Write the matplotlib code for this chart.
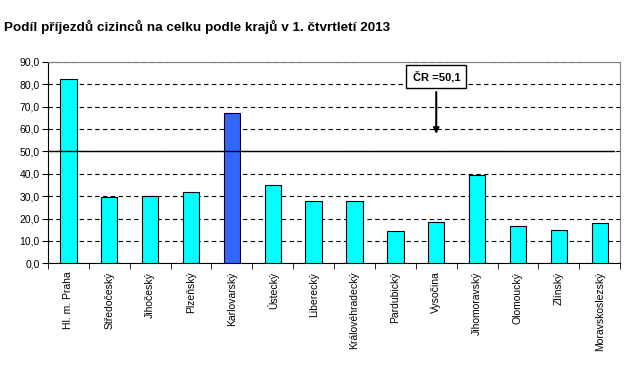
import numpy as np
import matplotlib.pyplot as plt
from matplotlib.ticker import MultipleLocator, FuncFormatter

kraje = ["Hl. m. Praha", "Středočeský", "Jihočeský", "Plzeňský", "Karlovarský",
         "Ústecký", "Liberecký", "Královéhradecký", "Pardubický", "Vysočina",
         "Jihomoravský", "Olomoucký", "Zlínský", "Moravskoslezský"]
podil = [82.5, 29.6, 30.0, 31.8, 67.2, 34.9, 27.8, 27.8, 14.5, 18.5, 39.3, 16.7, 14.9, 18.0]
cr = 50.1
zvyraznit = "Karlovarský"

plt.rcParams['font.family'] = ['Liberation Sans', 'DejaVu Sans']

fig = plt.figure(figsize=(6.4, 3.68), dpi=100)
ax = fig.add_axes([0.075, 0.2845, 0.894, 0.5475])

x = np.arange(len(kraje))
colors = ['#3366FF' if k == zvyraznit else '#00FFFF' for k in kraje]
ax.bar(x, podil, width=0.4, color=colors, edgecolor='black', linewidth=0.8, zorder=3)

ax.set_xlim(-0.5, len(kraje) - 0.5)
ax.set_ylim(0, 90)
ax.yaxis.set_major_locator(MultipleLocator(10))
ax.yaxis.set_major_formatter(FuncFormatter(lambda v, p: f"{v:.1f}".replace('.', ',')))
ax.grid(axis='y', color='black', linestyle=(0, (4, 3)), linewidth=0.8, zorder=1)

ax.set_xticks(x)
ax.set_xticklabels(kraje, rotation=90, fontsize=7.5)
ax.set_xticks(np.arange(len(kraje) + 1) - 0.5, minor=True)
ax.tick_params(axis='x', which='major', length=0, pad=6)
ax.tick_params(axis='x', which='minor', length=4, color='black')
ax.tick_params(axis='y', length=4, labelsize=7.5, pad=2)

for s in ['top', 'right']:
    ax.spines[s].set_color('#808080')
for s in ['left', 'bottom']:
    ax.spines[s].set_color('black')

ax.axhline(cr, xmin=0, xmax=0.99, color='black', linewidth=1.0, zorder=4)

ax.annotate("", xy=(9.0, 57.8), xytext=(9.0, 76.5),
            arrowprops=dict(arrowstyle='-|>', color='black', lw=1.5, mutation_scale=8,
                            shrinkA=0, shrinkB=0))
ax.text(9.0, 83.5, "ČR =50,1", ha='center', va='center', fontsize=8,
        fontweight='bold', zorder=5,
        bbox=dict(boxstyle='square,pad=0.55', facecolor='white', edgecolor='black', linewidth=1))

fig.text(0.006, 0.927, "Podíl příjezdů cizinců na celku podle krajů v 1. čtvrtletí 2013",
         fontsize=9.7, fontweight='bold', ha='left', va='center',
         family=['Liberation Sans Narrow', 'Liberation Sans', 'DejaVu Sans'])

fig.savefig("out.png", dpi=100)
